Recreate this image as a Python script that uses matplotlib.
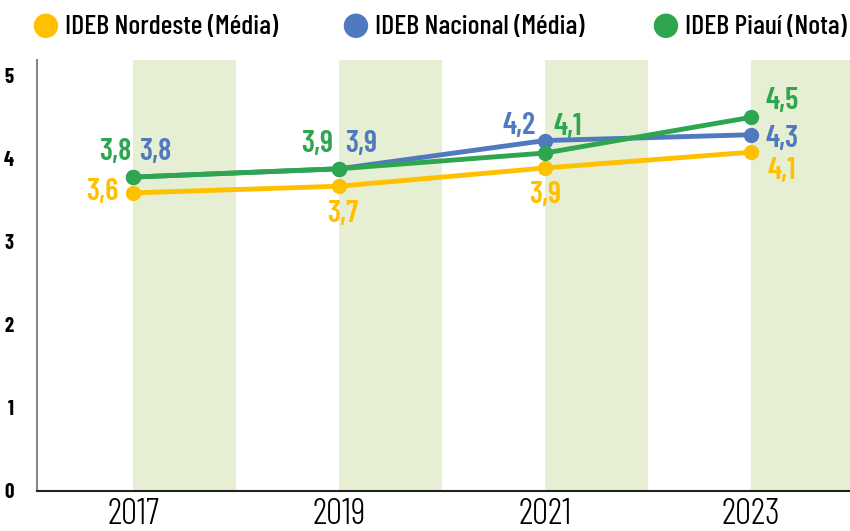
import numpy as np
import matplotlib.pyplot as plt

years = ["2017", "2019", "2021", "2023"]
nordeste = [3.59, 3.67, 3.89, 4.08]
nacional = [3.78, 3.88, 4.22, 4.29]
piaui = [3.78, 3.88, 4.07, 4.50]

plt.rcParams["font.family"] = ["Barlow Condensed", "DejaVu Sans"]

c_yel = "#FFC000"
c_blu = "#5079C0"
c_grn = "#2EA650"
c_band = "#E6EFD3"

fig = plt.figure(figsize=(8.5, 5.31), dpi=100)
ax = fig.add_axes([37 / 850, 1 - 491 / 531, (850 - 37) / 850, (491 - 60) / 531])

x = np.arange(len(years))
ymax = 5.19
ax.bar(x, [ymax] * len(x), width=0.5, align="edge", color=c_band, zorder=0)

ax.plot(x, nordeste, color=c_yel, lw=3.5, marker="o", ms=10, zorder=3)
ax.plot(x, nacional, color=c_blu, lw=3.5, marker="o", ms=10, zorder=3)
ax.plot(x, piaui, color=c_grn, lw=3.5, marker="o", ms=10, zorder=4)

def lab(i, vals, col, dx, dy):
    ax.annotate(f"{vals[i]:.1f}".replace(".", ","), (x[i], vals[i]),
                xytext=(dx * 0.72, dy * 0.72), textcoords="offset points",
                ha="center", va="center", color=col, fontsize=22, fontweight=600)

# 2017
lab(0, piaui, c_grn, -18, 25)
lab(0, nacional, c_blu, 22, 25)
lab(0, nordeste, c_yel, -31, 1)
# 2019
lab(1, piaui, c_grn, -22, 25)
lab(1, nacional, c_blu, 22, 25)
lab(1, nordeste, c_yel, 4, -28)
# 2021
lab(2, nacional, c_blu, -26, 15)
lab(2, piaui, c_grn, 23, 26)
lab(2, nordeste, c_yel, 0, -27)
# 2023
lab(3, piaui, c_grn, 31, 16)
lab(3, nacional, c_blu, 31, -4)
lab(3, nordeste, c_yel, 31, -19)

ax.set_xlim(-0.466, 3.48)
ax.set_ylim(0, ymax)
ax.set_xticks(x)
ax.set_xticklabels(years, fontsize=26, fontweight=300)
ax.set_yticks(range(6))
ax.set_yticklabels([str(v) for v in range(6)], fontsize=15, fontweight=700)
ax.tick_params(length=0)
ax.tick_params(axis="x", pad=5)
ax.tick_params(axis="y", pad=17)
for s in ["top", "right"]:
    ax.spines[s].set_visible(False)
ax.spines["left"].set_color("#888888")
ax.spines["left"].set_linewidth(1.5)
ax.spines["bottom"].set_color("#222222")
ax.spines["bottom"].set_linewidth(1.5)

# legend
leg = [("IDEB Nordeste (Média)", c_yel, 45), ("IDEB Nacional (Média)", c_blu, 355),
       ("IDEB Piauí (Nota)", c_grn, 665)]
for txt, col, px in leg:
    fig.text(px / 850, 1 - 26 / 531, "\u25CF", color=col, fontsize=23,
             ha="center", va="center", family="DejaVu Sans")
    fig.text((px + 20) / 850, 1 - 27 / 531, txt, color="black", fontsize=20,
             fontweight=500, ha="left", va="center")

fig.savefig("out.png", dpi=100)
